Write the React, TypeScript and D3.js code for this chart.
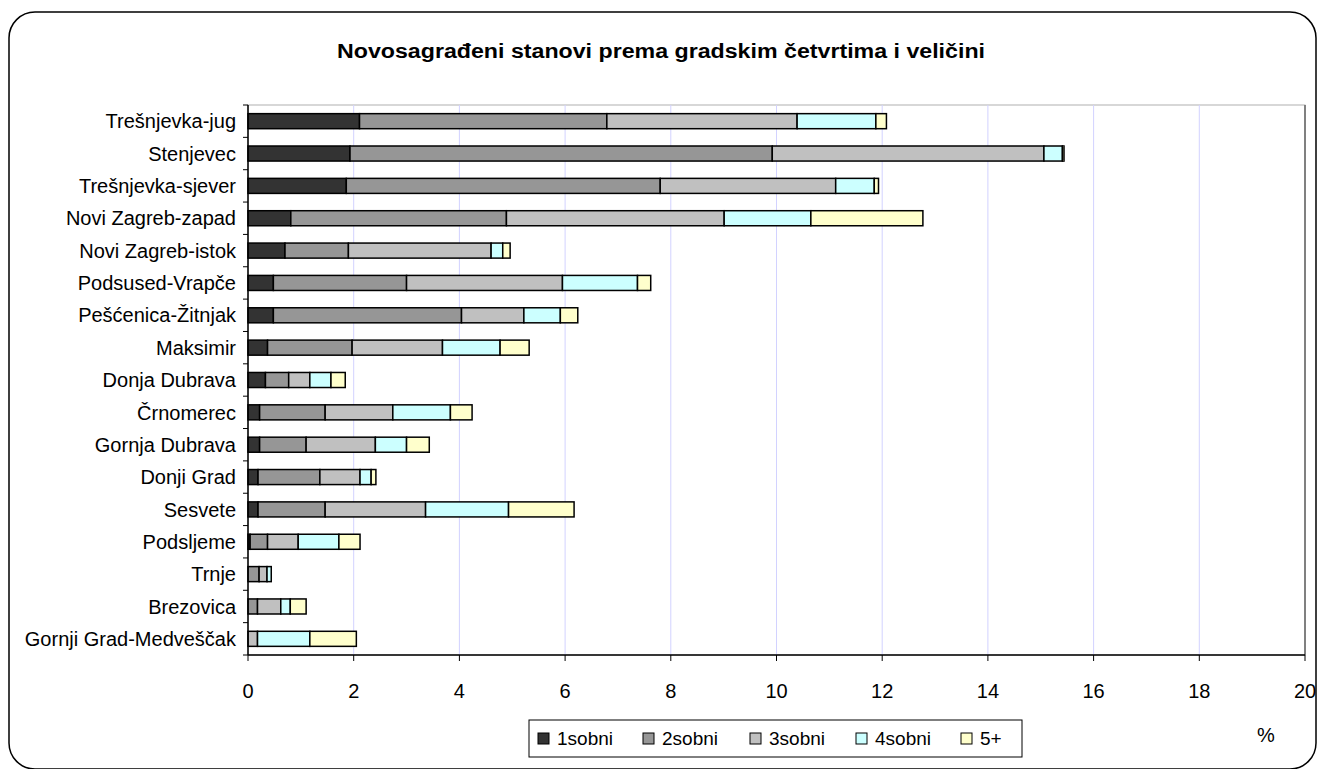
import React from "react";
import * as d3 from "d3";

const categories = [
  "Trešnjevka-jug",
  "Stenjevec",
  "Trešnjevka-sjever",
  "Novi Zagreb-zapad",
  "Novi Zagreb-istok",
  "Podsused-Vrapče",
  "Pešćenica-Žitnjak",
  "Maksimir",
  "Donja Dubrava",
  "Črnomerec",
  "Gornja Dubrava",
  "Donji Grad",
  "Sesvete",
  "Podsljeme",
  "Trnje",
  "Brezovica",
  "Gornji Grad-Medveščak",
];

const seriesNames = ["1sobni", "2sobni", "3sobni", "4sobni", "5+"];
const seriesColors = ["#333333", "#969696", "#C0C0C0", "#CCFFFF", "#FFFFCC"];

const sobni1 = [2.11, 1.93, 1.86, 0.81, 0.7, 0.48, 0.48, 0.37, 0.33, 0.22, 0.22, 0.19, 0.19, 0.04, 0, 0, 0];
const sobni2 = [4.68, 7.99, 5.94, 4.08, 1.2, 2.52, 3.56, 1.6, 0.44, 1.24, 0.88, 1.17, 1.27, 0.33, 0.21, 0.18, 0];
const sobni3 = [3.6, 5.14, 3.32, 4.12, 2.7, 2.95, 1.18, 1.71, 0.4, 1.28, 1.31, 0.76, 1.9, 0.58, 0.15, 0.44, 0.18];
const sobni4 = [1.49, 0.35, 0.73, 1.64, 0.22, 1.42, 0.69, 1.09, 0.4, 1.09, 0.59, 0.21, 1.57, 0.77, 0.08, 0.18, 0.99];
const sobni5 = [0.2, 0.03, 0.08, 2.12, 0.14, 0.25, 0.33, 0.55, 0.27, 0.41, 0.43, 0.09, 1.24, 0.4, 0, 0.3, 0.88];

const xTicks = [0, 2, 4, 6, 8, 10, 12, 14, 16, 18, 20];

const W = 1317;
const H = 769;
const FONT = "Arial, 'Liberation Sans', Helvetica, sans-serif";

export default function App() {
  const plot = { left: 248, right: 1305, top: 105, bottom: 655 };
  const x = d3.scaleLinear().domain([0, 20]).range([plot.left, plot.right]);
  const y = d3
    .scaleBand<string>()
    .domain(categories)
    .range([plot.top, plot.bottom])
    .paddingInner(0.535)
    .paddingOuter(0.2675);

  const rows = categories.map((c, i) => ({
    cat: c,
    s0: sobni1[i],
    s1: sobni2[i],
    s2: sobni3[i],
    s3: sobni4[i],
    s4: sobni5[i],
  }));
  const keys = ["s0", "s1", "s2", "s3", "s4"];
  const stack = d3.stack<any>().keys(keys)(rows);

  const step = y.step();
  const bandEdges = d3.range(categories.length + 1).map((i) => plot.top + i * step);

  const legendX = 529;
  const legendY = 720;
  const legendItemX = [538, 643, 750, 856, 961];

  return (
    <svg
      width={W}
      height={H}
      style={{ position: "absolute", left: 0, top: 0, background: "#fff" }}
      fontFamily={FONT}
    >
      <rect x={0} y={0} width={W} height={H} fill="#fff" />
      <rect
        x={9}
        y={12}
        width={1307}
        height={757}
        rx={26}
        ry={26}
        fill="#fff"
        stroke="#000"
        strokeWidth={1.5}
      />
      <text
        x={661}
        y={58}
        textAnchor="middle"
        fontSize={20}
        fontWeight="bold"
        textLength={648}
        lengthAdjust="spacingAndGlyphs"
      >
        Novosagrađeni stanovi prema gradskim četvrtima i veličini
      </text>

      {/* plot area border */}
      <rect
        x={plot.left}
        y={plot.top}
        width={plot.right - plot.left}
        height={plot.bottom - plot.top}
        fill="none"
        stroke="#b0b0b0"
        strokeWidth={1}
      />
      {/* gridlines */}
      {xTicks
        .filter((t) => t > 0 && t < 20)
        .map((t) => (
          <line
            key={"g" + t}
            x1={x(t)}
            x2={x(t)}
            y1={plot.top}
            y2={plot.bottom}
            stroke="#d2d2ff"
            strokeWidth={1}
          />
        ))}
      <line x1={plot.right} x2={plot.right} y1={plot.top} y2={plot.bottom} stroke="#808080" strokeWidth={2} />

      {/* bars */}
      {stack.map((layer, li) =>
        layer.map((d, i) => {
          const w = x(d[1]) - x(d[0]);
          if (w <= 0) return null;
          return (
            <rect
              key={li + "-" + i}
              x={x(d[0])}
              y={y(categories[i])!}
              width={w}
              height={y.bandwidth()}
              fill={seriesColors[li]}
              stroke="#000"
              strokeWidth={1.5}
            />
          );
        })
      )}

      {/* axes */}
      <line x1={plot.left} x2={plot.left} y1={plot.top} y2={plot.bottom} stroke="#000" strokeWidth={1.5} />
      <line x1={plot.left} x2={plot.right} y1={plot.bottom} y2={plot.bottom} stroke="#000" strokeWidth={1.5} />
      {bandEdges.map((yy, i) => (
        <line key={"yt" + i} x1={plot.left - 5} x2={plot.left} y1={yy} y2={yy} stroke="#000" strokeWidth={1} />
      ))}
      {categories.map((c) => (
        <text
          key={"yl" + c}
          x={236}
          y={y(c)! + y.bandwidth() / 2}
          dy="0.36em"
          textAnchor="end"
          fontSize={20}
        >
          {c}
        </text>
      ))}
      {xTicks.map((t) => (
        <g key={"xt" + t}>
          <line x1={x(t)} x2={x(t)} y1={plot.bottom} y2={plot.bottom + 6} stroke="#000" strokeWidth={1} />
          <text x={x(t)} y={698} textAnchor="middle" fontSize={20}>
            {t}
          </text>
        </g>
      ))}
      <text x={1266} y={742} textAnchor="middle" fontSize={20}>
        %
      </text>

      {/* legend */}
      <rect x={legendX} y={legendY} width={493} height={37} fill="#fff" stroke="#000" strokeWidth={1} />
      {seriesNames.map((n, i) => (
        <g key={"lg" + n}>
          <rect
            x={legendItemX[i]}
            y={733}
            width={11}
            height={11}
            fill={seriesColors[i]}
            stroke="#000"
            strokeWidth={1}
          />
          <text x={legendItemX[i] + 19} y={745} fontSize={19}>
            {n}
          </text>
        </g>
      ))}
    </svg>
  );
}
